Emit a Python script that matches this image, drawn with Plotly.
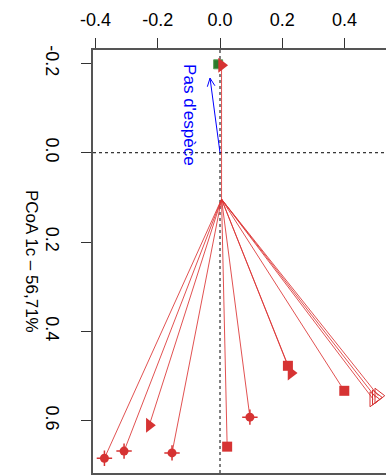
import math
import plotly.graph_objects as go

# Group centroid in PCoA space
cent_x, cent_y = 0.005, 0.104

# Sample scores, split by plotting symbol
dot_x = [-0.371, -0.308, -0.154, 0.096]
dot_y = [0.684, 0.668, 0.672, 0.592]
sq_x = [0.023, 0.218, 0.399]
sq_y = [0.658, 0.477, 0.533]
tri_x = [-0.227, 0.228, 0.005]
tri_y = [0.610, 0.493, -0.196]
open_x = [0.500, 0.508, 0.492]
open_y = [0.548, 0.544, 0.552]

# Reference sample (other group)
ref_x = [-0.006]
ref_y = [-0.198]

# Environmental vector
vec_label = "Pas d'espèce"
vec_x, vec_y = -0.032, -0.167

x_ticks = [-0.4, -0.2, 0.0, 0.2, 0.4]
y_ticks = [-0.2, 0.0, 0.2, 0.4, 0.6]
y_title = "PCoA 1c – 56,71%"

X_RANGE = [-0.4077, 0.5329]
Y_RANGE = [0.717, -0.230]
W, H = 386, 475
M = dict(l=93, r=0, t=50, b=2)

RED = "#d63333"
LINE_RED = "rgba(220,50,50,0.85)"
GREEN = "#2b7a2b"
FONT = "Liberation Sans, Arial, sans-serif"

fig = go.Figure()

# Spider segments from the centroid to every sample
seg_x, seg_y = [], []
for xs, ys in [(dot_x, dot_y), (sq_x, sq_y), (tri_x, tri_y), (open_x, open_y)]:
    for px, py in zip(xs, ys):
        seg_x += [cent_x, px, None]
        seg_y += [cent_y, py, None]
fig.add_trace(go.Scatter(x=seg_x, y=seg_y, mode="lines",
                         line=dict(color=LINE_RED, width=1), hoverinfo="skip"))

fig.add_trace(go.Scatter(x=ref_x, y=ref_y, mode="markers",
                         marker=dict(symbol="square", size=9, color=GREEN,
                                     line=dict(color="#5aa05a", width=1))))
fig.add_trace(go.Scatter(x=dot_x, y=dot_y, mode="markers",
                         marker=dict(symbol="circle", size=9, color=RED, line=dict(width=0))))
fig.add_trace(go.Scatter(x=dot_x, y=dot_y, mode="markers",
                         marker=dict(symbol="cross-thin", size=11,
                                     line=dict(color=RED, width=1.5))))
fig.add_trace(go.Scatter(x=sq_x, y=sq_y, mode="markers",
                         marker=dict(symbol="square", size=10, color=RED, line=dict(width=0))))
fig.add_trace(go.Scatter(x=tri_x, y=tri_y, mode="markers",
                         marker=dict(symbol="triangle-right", size=13, color=RED, line=dict(width=0))))
fig.add_trace(go.Scatter(x=open_x, y=open_y, mode="markers", cliponaxis=False,
                         marker=dict(symbol="triangle-right-open", size=13, color=RED,
                                     line=dict(color=RED, width=1))))

# Reference lines through the origin
fig.add_shape(type="line", xref="x", yref="paper", x0=0, x1=0, y0=0, y1=1,
              line=dict(color="black", width=1, dash="dot"), layer="below")
fig.add_shape(type="line", xref="paper", yref="y", x0=0, x1=1, y0=0, y1=0,
              line=dict(color="black", width=1, dash="dot"), layer="below")

# Fitted vector: shaft plus an open V head, sized in screen pixels
sx = (W - M["l"] - M["r"]) / (X_RANGE[1] - X_RANGE[0])
sy = (H - M["t"] - M["b"]) / (Y_RANGE[0] - Y_RANGE[1])
ang = math.atan2(vec_y * sy, vec_x * sx)
head_len, head_ang = 9, math.radians(25)
head_x, head_y = [], []
for s in (1, -1):
    a = ang + math.pi + s * head_ang
    head_x += [vec_x + head_len * math.cos(a) / sx]
    head_y += [vec_y + head_len * math.sin(a) / sy]
fig.add_trace(go.Scatter(x=[0, vec_x], y=[0, vec_y], mode="lines",
                         line=dict(color="blue", width=1), hoverinfo="skip"))
fig.add_trace(go.Scatter(x=[head_x[0], vec_x, head_x[1]], y=[head_y[0], vec_y, head_y[1]],
                         mode="lines", line=dict(color="blue", width=1), hoverinfo="skip"))
fig.add_annotation(x=-0.096, y=-0.084, xref="x", yref="y", text=vec_label, showarrow=False,
                   textangle=90, font=dict(color="blue", size=17, family=FONT))

# Axis title, reading top to bottom
fig.add_annotation(x=-73 / 293, y=0.5, xref="paper", yref="paper", text=y_title,
                   showarrow=False, textangle=90, font=dict(color="black", size=17, family=FONT))

fig.update_layout(
    width=W, height=H,
    margin=M,
    paper_bgcolor="white", plot_bgcolor="white",
    showlegend=False,
    font=dict(family=FONT, size=18, color="black"),
    xaxis=dict(side="top", range=X_RANGE, tickvals=x_ticks,
               ticktext=[f"{v:.1f}" for v in x_ticks],
               showgrid=False, zeroline=False, showline=True, mirror=True,
               linecolor="#555", linewidth=1.5, ticks="outside", ticklen=10,
               tickcolor="#333", ticklabelstandoff=5),
    yaxis=dict(range=Y_RANGE, tickvals=y_ticks,
               ticktext=[f"{v:.1f}" for v in y_ticks], tickangle=90,
               showgrid=False, zeroline=False, showline=True, mirror=False,
               linecolor="#555", linewidth=1.5, ticks="outside", ticklen=10,
               tickcolor="#333", ticklabelstandoff=14),
)

fig.write_html("out.html")
